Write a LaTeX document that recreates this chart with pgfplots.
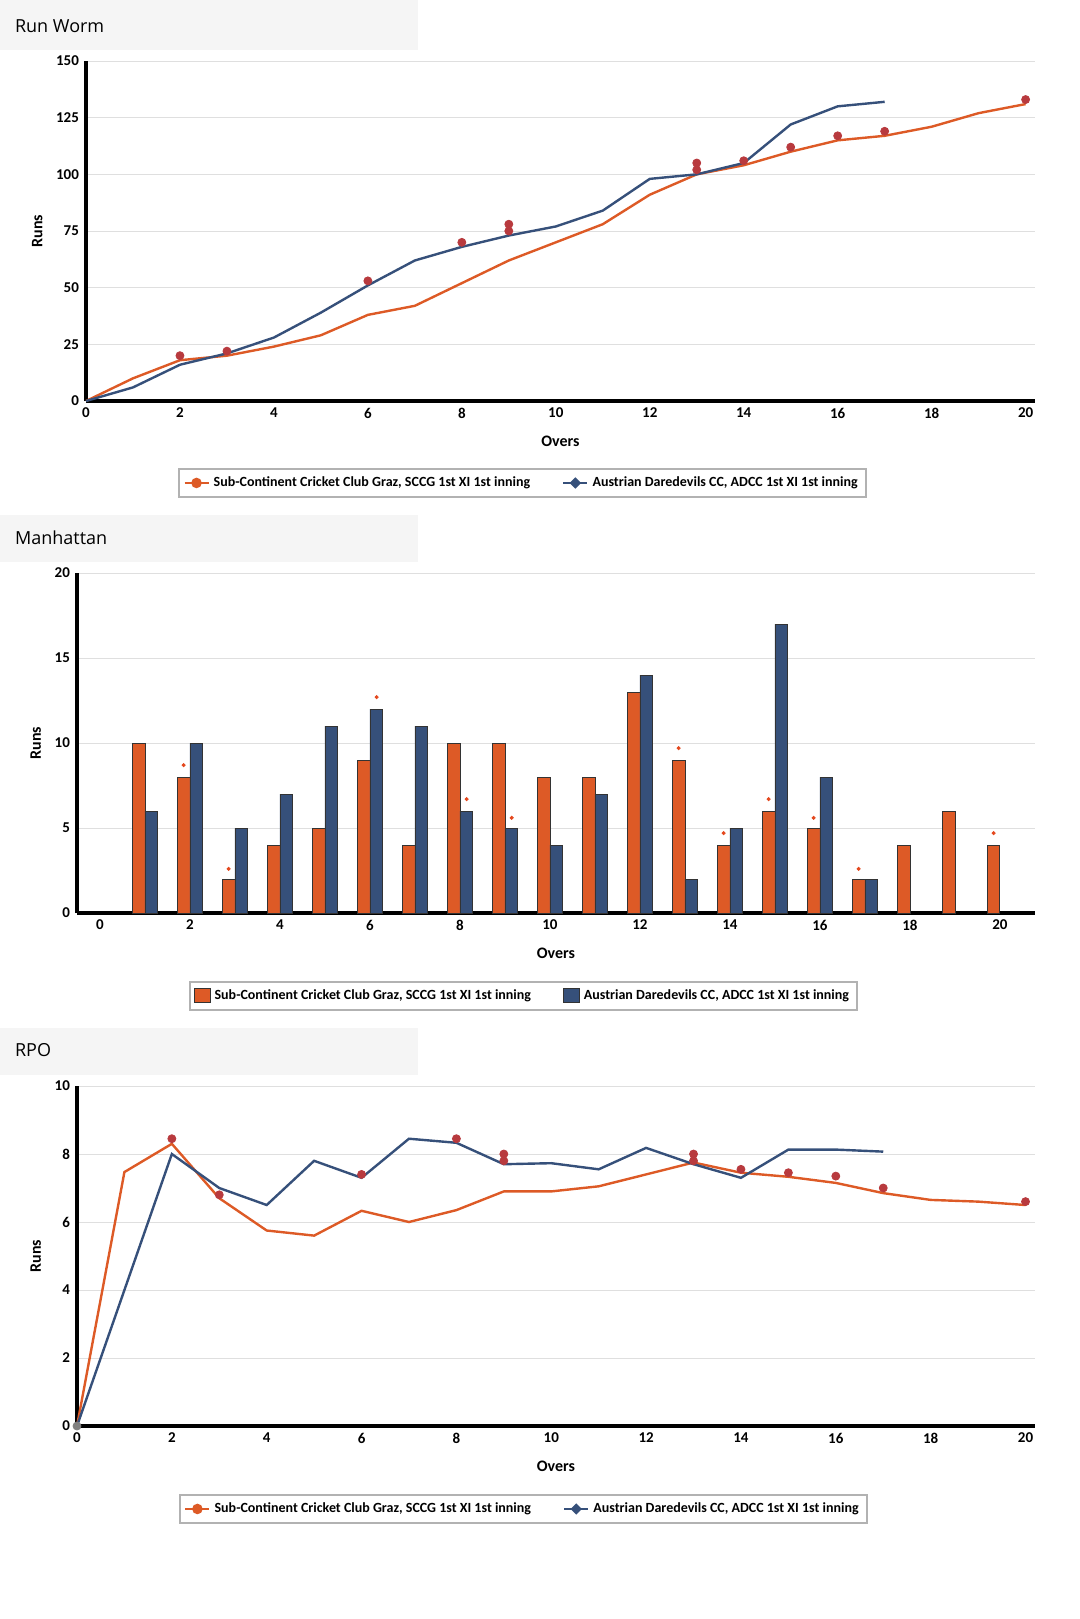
\documentclass[border=0pt]{standalone}
\usepackage{fontspec}
\setmainfont{Carlito}
\newfontfamily\titlefont{Open Sans}
\usepackage{pgfplots}
\pgfplotsset{compat=1.18}
\definecolor{cor}{HTML}{DD5A26}
\definecolor{cbl}{HTML}{36507A}
\definecolor{cdot}{HTML}{B83A3E}
\pgfplotsset{cs/.style={
  scale only axis, axis lines=left, axis line style={line width=1.6pt,-},
  major tick length=0pt, ymajorgrids, grid style={gray!25,line width=0.5pt},
  ticklabel style={font=\fontsize{7.5}{8}\selectfont\bfseries},
  /pgf/number format/assume math mode=true,
  xlabel={Overs}, ylabel={Runs},
  label style={font=\fontsize{8}{9}\selectfont\bfseries},
  xlabel style={yshift=-2pt}, ylabel style={yshift=0pt},
  legend columns=2,
  legend style={font=\fontsize{7}{8}\selectfont\bfseries, draw=gray!60, line width=1pt,
    /tikz/every even column/.append style={column sep=14pt}, inner sep=2pt},
  clip=false,
}}
\pgfplotsset{lineleg/.style={legend image code/.code={\draw[##1, line width=1.2pt] (0pt,0pt) -- (12pt,0pt); \fill[##1] (6pt,0pt) circle (2pt);}}}
\begin{document}
\begin{tikzpicture}
\useasboundingbox (0,0) rectangle (540pt,-809.5pt);
\fill[gray!8] (0,0) rectangle (209pt,-25pt);
\node[anchor=west,font=\titlefont\fontsize{9}{10}\selectfont] at (4pt,-13pt) {Run Worm};
\fill[gray!8] (0,-257.5pt) rectangle (209pt,-281pt);
\node[anchor=west,font=\titlefont\fontsize{9}{10}\selectfont] at (4pt,-269pt) {Manhattan};
\fill[gray!8] (0,-514pt) rectangle (209pt,-537.5pt);
\node[anchor=west,font=\titlefont\fontsize{9}{10}\selectfont] at (4pt,-525pt) {RPO};

\begin{axis}[cs, at={(43pt,-200.5pt)}, anchor=south west, width=474.5pt, height=170pt,
  xmin=0, xmax=20.2, ymin=0, ymax=150, xtick={0,2,...,20}, ytick={0,25,...,150},
  legend style={at={(0.46,-0.241)}, anchor=center}]
\addplot[cor, line width=1.2pt, legend image code/.code={\draw[cor, line width=1.2pt] (0pt,0pt) -- (12pt,0pt); \fill[cor] (6pt,0pt) circle (2pt);}] coordinates {(0,0)(1,10)(2,18)(3,20)(4,24)(5,29)(6,38)(7,42)(8,52)(9,62)(10,70)(11,78)(12,91)(13,100)(14,104)(15,110)(16,115)(17,117)(18,121)(19,127)(20,131)};
\addlegendentry{Sub-Continent Cricket Club Graz, SCCG 1st XI 1st inning}
\addplot[cbl, line width=1.2pt, legend image code/.code={\draw[cbl, line width=1.2pt] (0pt,0pt) -- (12pt,0pt); \fill[cbl] (6pt,2pt) -- (8pt,0pt) -- (6pt,-2pt) -- (4pt,0pt) -- cycle;}] coordinates {(0,0)(1,6)(2,16)(3,21)(4,28)(5,39)(6,51)(7,62)(8,68)(9,73)(10,77)(11,84)(12,98)(13,100)(14,105)(15,122)(16,130)(17,132)};
\addlegendentry{Austrian Daredevils CC, ADCC 1st XI 1st inning}
\addplot[only marks, mark=*, mark size=2pt, cdot, forget plot] coordinates {(2,20)(3,22)(6,53)(8,70)(9,78)(9,75)(13,105)(13,102)(14,106)(15,112)(16,117)(17,119)(20,133)};
\end{axis}

\begin{axis}[cs, at={(38.5pt,-456.5pt)}, anchor=south west, width=479pt, height=170pt,
  xmin=-0.51, xmax=20.78, ymin=0, ymax=20, xtick={0,2,...,20}, ytick={0,5,...,20},
  legend style={at={(0.466,-0.244)}, anchor=center}, legend image code/.code={\fill[#1] (0pt,-3pt) rectangle (8pt,4pt);}]
\addplot[ybar, bar width=0.27, bar shift=-0.135, fill=cor, draw=black!80, line width=0.4pt] coordinates {(1,10)(2,8)(3,2)(4,4)(5,5)(6,9)(7,4)(8,10)(9,10)(10,8)(11,8)(12,13)(13,9)(14,4)(15,6)(16,5)(17,2)(18,4)(19,6)(20,4)};
\addlegendentry{Sub-Continent Cricket Club Graz, SCCG 1st XI 1st inning}
\addplot[ybar, bar width=0.27, bar shift=0.135, fill=cbl, draw=black!80, line width=0.4pt] coordinates {(1,6)(2,10)(3,5)(4,7)(5,11)(6,12)(7,11)(8,6)(9,5)(10,4)(11,7)(12,14)(13,2)(14,5)(15,17)(16,8)(17,2)};
\addlegendentry{Austrian Daredevils CC, ADCC 1st XI 1st inning}
\addplot[only marks, mark=*, mark size=0.8pt, cor!80!red, forget plot] coordinates {(1.86,8.7)(2.86,2.6)(6.15,12.7)(8.15,6.7)(9.15,5.6)(12.86,9.7)(13.86,4.7)(14.86,6.7)(15.86,5.6)(16.86,2.6)(19.86,4.7)};
\end{axis}

\begin{axis}[cs, at={(38.5pt,-713pt)}, anchor=south west, width=479pt, height=170pt,
  xmin=0, xmax=20.2, ymin=0, ymax=10, xtick={0,2,...,20}, ytick={0,2,...,10},
  legend style={at={(0.466,-0.244)}, anchor=center}]
\addplot[cor, line width=1.2pt, legend image code/.code={\draw[cor, line width=1.2pt] (0pt,0pt) -- (12pt,0pt); \fill[cor] (6pt,0pt) circle (2pt);}] coordinates {(0,0)(1,7.47)(2,8.3)(3,6.7)(4,5.75)(5,5.6)(6,6.33)(7,6.0)(8,6.35)(9,6.9)(10,6.9)(11,7.05)(12,7.4)(13,7.75)(14,7.45)(15,7.33)(16,7.15)(17,6.85)(18,6.65)(19,6.6)(20,6.5)};
\addlegendentry{Sub-Continent Cricket Club Graz, SCCG 1st XI 1st inning}
\addplot[cbl, line width=1.2pt, legend image code/.code={\draw[cbl, line width=1.2pt] (0pt,0pt) -- (12pt,0pt); \fill[cbl] (6pt,2pt) -- (8pt,0pt) -- (6pt,-2pt) -- (4pt,0pt) -- cycle;}] coordinates {(0,0)(1,4.0)(2,8.0)(3,7.0)(4,6.5)(5,7.8)(6,7.3)(7,8.45)(8,8.33)(9,7.7)(10,7.73)(11,7.55)(12,8.18)(13,7.7)(14,7.3)(15,8.13)(16,8.13)(17,8.07)};
\addlegendentry{Austrian Daredevils CC, ADCC 1st XI 1st inning}
\addplot[only marks, mark=*, mark size=2pt, cdot, forget plot] coordinates {(2,8.45)(3,6.8)(6,7.4)(8,8.45)(9,8.0)(9,7.8)(13,8.0)(13,7.8)(14,7.55)(15,7.45)(16,7.35)(17,7.0)(20,6.6)};
\addplot[only marks, mark=*, mark size=2pt, gray, forget plot] coordinates {(0,0)};
\end{axis}
\end{tikzpicture}
\end{document}
